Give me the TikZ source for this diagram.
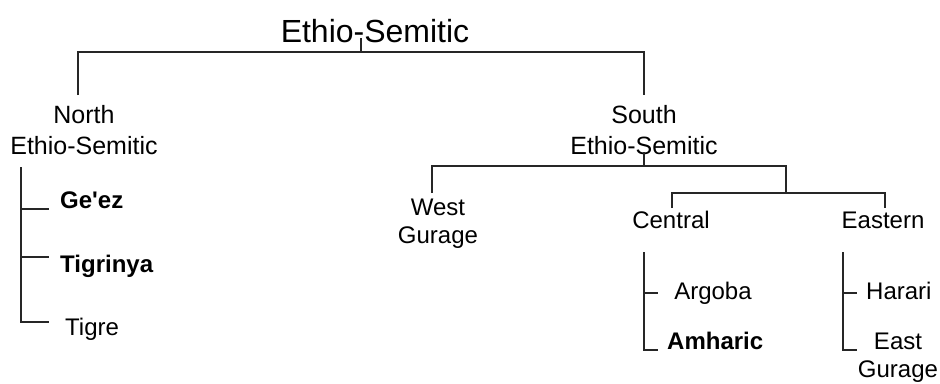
\documentclass[tikz,border=0pt]{standalone}
\usepackage{fontspec}
\setmainfont{Liberation Sans}[Ligatures=TeXOff]
\newcommand{\twolines}[2]{\begin{tabular}[t]{@{}c@{}}#1\\#2\end{tabular}}
\begin{document}
\begin{tikzpicture}[x=1pt,y=-1pt,
  tree/.style={draw=black!85,line width=1.3pt},
  lbl/.style={inner sep=0pt,anchor=base,text=black},
  big/.style={lbl,font=\fontsize{32}{38}\selectfont},
  mid/.style={lbl,font=\fontsize{25}{31}\selectfont},
  low/.style={lbl,font=\fontsize{24}{28}\selectfont},
  lowl/.style={low,anchor=base west}]
\useasboundingbox (0,0) rectangle (940,383);
% labels
\node[big] (root) at (375,42) {Ethio-Semitic};
\node[mid] (north) at (84,123) {\twolines{North}{Ethio-Semitic}};
\node[mid] (south) at (644,123) {\twolines{South}{Ethio-Semitic}};
\node[low] (west) at (438,215) {\twolines{West}{Gurage}};
\node[low] (central) at (671,228) {Central};
\node[low] (eastern) at (883,228) {Eastern};
\node[lowl,font=\fontsize{24}{28}\selectfont\bfseries] (geez) at (60,208) {Ge'ez};
\node[lowl,font=\fontsize{24}{28}\selectfont\bfseries] (tigrinya) at (60,272) {Tigrinya};
\node[lowl] (tigre) at (65,335) {Tigre};
\node[low] (argoba) at (713,299) {Argoba};
\node[lowl,font=\fontsize{24}{28}\selectfont\bfseries] (amharic) at (667,349) {Amharic};
\node[lowl] (harari) at (866,299) {Harari};
\node[low] (eastg) at (898,349) {\twolines{East}{Gurage}};
% junction coordinates
\coordinate (rt) at (361,38);
\coordinate (rj) at (361,52);
\coordinate (nl) at (78,52);
\coordinate (nb) at (78,95);
\coordinate (sl) at (644,52);
\coordinate (sb) at (644,95);
\coordinate (nvt) at (21,167);
\coordinate (nv1) at (21,209);
\coordinate (nv2) at (21,257);
\coordinate (nv3) at (21,322);
\coordinate (ge) at (49,209);
\coordinate (ti) at (49,257);
\coordinate (tr) at (49,322);
\coordinate (st) at (644,152);
\coordinate (sj) at (644,166);
\coordinate (wl) at (432,166);
\coordinate (wb) at (432,193);
\coordinate (cr) at (786,166);
\coordinate (cj) at (786,193);
\coordinate (cl) at (672,193);
\coordinate (cb) at (672,208);
\coordinate (el) at (885,193);
\coordinate (eb) at (885,208);
\coordinate (cvt) at (644,252);
\coordinate (cv1) at (644,293);
\coordinate (cv2) at (644,350);
\coordinate (ar) at (658,293);
\coordinate (am) at (658,350);
\coordinate (evt) at (843,252);
\coordinate (ev1) at (843,293);
\coordinate (ev2) at (843,350);
\coordinate (ha) at (857,293);
\coordinate (eg) at (857,350);
% connectors
\draw[tree] (rt) -- (rj);
\draw[tree] (nb) -- (nl) -- (sl) -- (sb);
\draw[tree] (nvt) -- (nv3) -- (tr);
\draw[tree] (nv1) -- (ge);
\draw[tree] (nv2) -- (ti);
\draw[tree] (st) -- (sj);
\draw[tree] (wb) -- (wl) -- (cr) -- (cj);
\draw[tree] (cb) -- (cl) -- (el) -- (eb);
\draw[tree] (cvt) -- (cv2) -- (am);
\draw[tree] (cv1) -- (ar);
\draw[tree] (evt) -- (ev2) -- (eg);
\draw[tree] (ev1) -- (ha);
\end{tikzpicture}
\end{document}
